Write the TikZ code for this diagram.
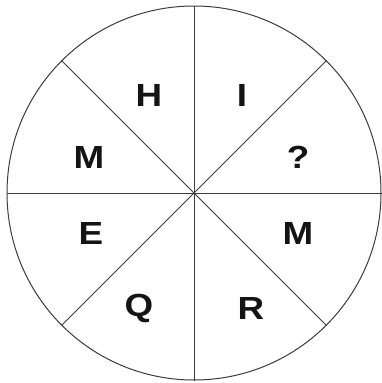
\documentclass[tikz,border=0pt]{standalone}
\usepackage{fontspec}
\usepackage{graphicx}
\setmainfont{Liberation Sans}
\usetikzlibrary{positioning}
\definecolor{lineC}{HTML}{3C3C3C}
\definecolor{letC}{HTML}{141414}
\tikzset{
  wheel/.style={circle, draw=lineC, line width=1pt, inner sep=0pt, minimum size=374pt},
  spoke/.style={draw=lineC, line width=1pt},
  let/.style={text=letC, inner sep=0pt, font=\fontsize{32}{32}\selectfont\bfseries},
}
\newcommand\widelet[1]{\scalebox{1.15}[1]{#1}}
\begin{document}
\begin{tikzpicture}[x=1pt,y=-1pt]
\useasboundingbox (0,0) rectangle (382,383);
\node[wheel] (w) at (194,193) {};
\foreach \a in {0,45,90,135}
  \draw[spoke] (w.\a) -- (w.\the\numexpr\a+180\relax);
\node[let] (h) at (149,95) {\widelet{H}};
\node[let] (i) at (242,95) {\widelet{I}};
\node[let] (m1) at (89,157) {\widelet{M}};
\node[let] (q1) at (298,157) {\widelet{?}};
\node[let] (e) at (91,233) {\widelet{E}};
\node[let] (m2) at (298,233) {\widelet{M}};
\node[let] (q2) at (139,308) {\widelet{Q}};
\node[let] (r) at (251,308) {\widelet{R}};
\end{tikzpicture}
\end{document}
